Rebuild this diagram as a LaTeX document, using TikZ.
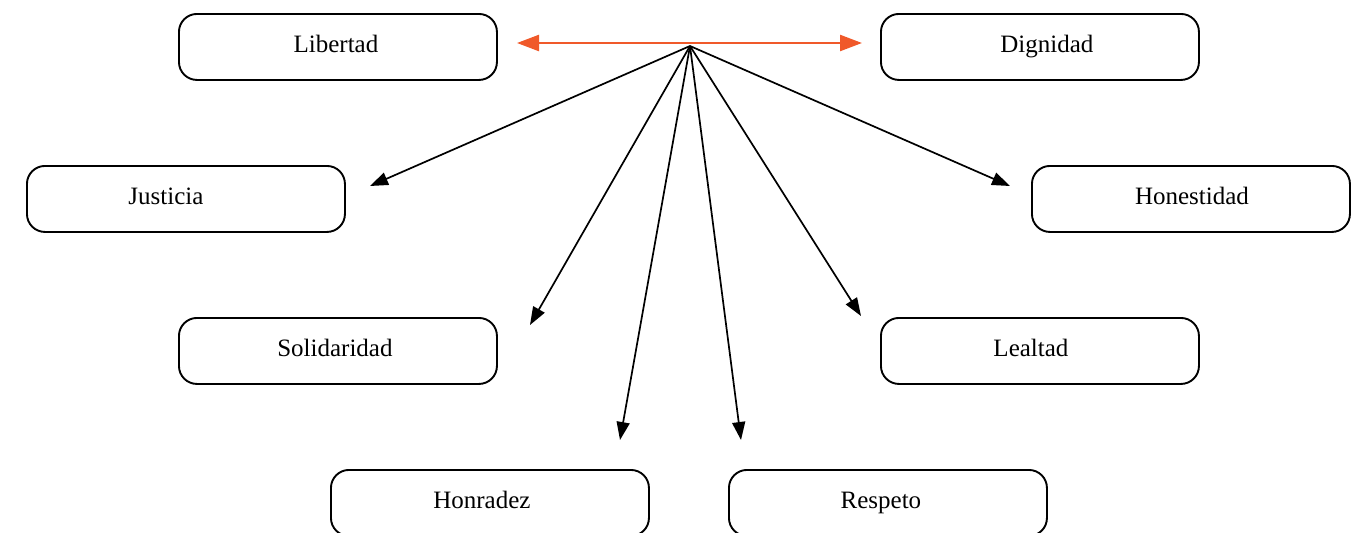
\documentclass[tikz,border=0pt]{standalone}
\usepackage{fontspec}
\setmainfont{Liberation Serif}
\usetikzlibrary{arrows.meta}
\definecolor{orangeline}{HTML}{F0592A}
\newcommand{\shiftt}[2]{\hspace*{#1}#2}
\begin{document}
\begin{tikzpicture}[x=1pt,y=-1pt,
  valbox/.style={draw, line width=1.9pt, rounded corners=18pt, minimum width=318pt, minimum height=66pt, inner sep=0pt, font=\fontsize{25}{30}\selectfont, anchor=north west, text height=17pt, text depth=5pt},
  conn/.style={line width=1.7pt, -{Triangle[length=18pt,width=13pt]}},
  oconn/.style={line width=2.4pt, orangeline, {Triangle[length=22pt,width=16pt]}-{Triangle[length=22pt,width=16pt]}}]
\useasboundingbox (0,0) rectangle (1366,533);
\node[valbox] (lib) at (178,13) {\shiftt{-4pt}{Libertad}};
\node[valbox] (dig) at (880,13) {\shiftt{14pt}{Dignidad}};
\node[valbox] (jus) at (26,165) {\shiftt{-40pt}{Justicia}};
\node[valbox] (hon) at (1031,165) {\shiftt{2pt}{Honestidad}};
\node[valbox] (sol) at (178,317) {\shiftt{-6pt}{Solidaridad}};
\node[valbox] (lea) at (880,317) {\shiftt{-18pt}{Lealtad}};
\node[valbox] (hnr) at (330,469) {\shiftt{-16pt}{Honradez}};
\node[valbox] (res) at (728,469) {\shiftt{-14pt}{Respeto}};
\coordinate (hub) at (690,46);
\coordinate (ol) at (517,43);
\coordinate (or) at (862,43);
\coordinate (ejus) at (370,186);
\coordinate (ehon) at (1010,186);
\coordinate (esol) at (530,325);
\coordinate (elea) at (861,316);
\coordinate (ehnr) at (620,440);
\coordinate (eres) at (741,440);
\draw[oconn] (ol) -- (or);
\draw[conn] (hub) -- (ejus);
\draw[conn] (hub) -- (ehon);
\draw[conn] (hub) -- (esol);
\draw[conn] (hub) -- (elea);
\draw[conn] (hub) -- (ehnr);
\draw[conn] (hub) -- (eres);
\end{tikzpicture}
\end{document}
